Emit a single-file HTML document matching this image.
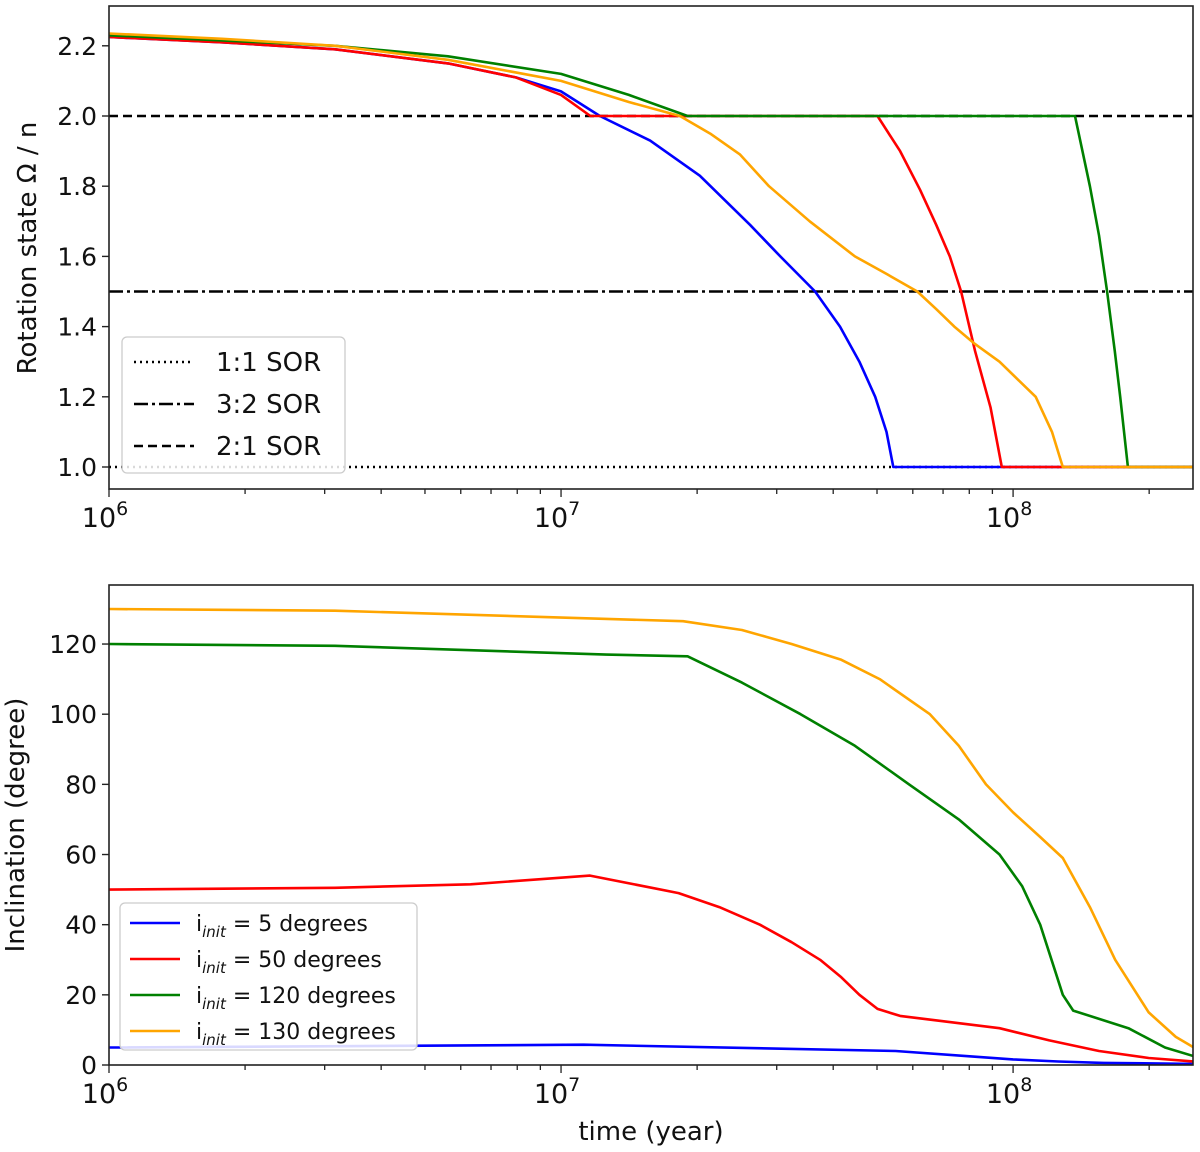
<!DOCTYPE html>
<html><head><meta charset="utf-8"><style>
body{margin:0;background:#fff}
svg text{font-family:"DejaVu Sans","Liberation Sans",sans-serif;fill:#111}
</style></head><body>
<svg id="c" width="1200" height="1147" xmlns="http://www.w3.org/2000/svg"></svg>
<script>
const tBlue=[6,6.25,6.5,6.75,6.9,7.0,7.086,7.197,7.307,7.418,7.485,7.562,7.617,7.66,7.695,7.72,7.735,8.4];
const rBlue=[2.225,2.21,2.19,2.15,2.11,2.07,2.0,1.93,1.83,1.69,1.6,1.5,1.4,1.3,1.2,1.1,1.0,1.0];
const tRed=[6,6.25,6.5,6.75,6.9,7.0,7.065,7.70,7.75,7.794,7.83,7.86,7.885,7.916,7.95,7.975,8.4];
const rRed=[2.225,2.21,2.19,2.15,2.11,2.06,2.0,2.0,1.9,1.79,1.69,1.6,1.5,1.33,1.17,1.0,1.0];
const tGreen=[6,6.25,6.5,6.75,7.0,7.15,7.28,8.137,8.17,8.19,8.208,8.225,8.237,8.254,8.4];
const rGreen=[2.23,2.215,2.2,2.17,2.12,2.06,2.0,2.0,1.8,1.66,1.5,1.33,1.2,1.0,1.0];
const tOrange=[6,6.25,6.5,6.75,7.0,7.15,7.263,7.33,7.396,7.46,7.55,7.65,7.72,7.788,7.83,7.87,7.916,7.97,8.01,8.05,8.086,8.11,8.4];
const rOrange=[2.235,2.22,2.2,2.16,2.1,2.04,2.0,1.95,1.89,1.8,1.7,1.6,1.55,1.5,1.45,1.4,1.35,1.3,1.25,1.2,1.1,1.0,1.0];
const iTBlue=[6,7.05,7.74,7.9,8.0,8.1,8.2,8.4];
const iBlue=[5,5.8,4,2.5,1.6,1.0,0.6,0.3];
const iTRed=[6,6.5,6.8,7.064,7.26,7.35,7.44,7.51,7.573,7.62,7.66,7.70,7.75,7.97,8.08,8.19,8.30,8.4];
const iRed=[50,50.5,51.5,54,49,45,40,35,30,25,20,16,14,10.5,7,4,2,1];
const iTGreen=[6,6.5,7.1,7.28,7.4,7.53,7.65,7.77,7.88,7.97,8.02,8.06,8.09,8.11,8.133,8.255,8.336,8.4];
const iGreen=[120,119.5,117,116.5,109,100,91,80,70,60,51,40,28,20,15.5,10.5,5,2.5];
const iTOrange=[6,6.5,7.27,7.4,7.51,7.62,7.705,7.816,7.88,7.94,8.0,8.06,8.11,8.17,8.226,8.30,8.36,8.4];
const iOrange=[130,129.5,126.5,124,120,115.5,110,100,91,80,72,65,59,45,30,15,8,5];
const yTicksTop=[1.0,1.2,1.4,1.6,1.8,2.0,2.2];
const yTicksBot=[0,20,40,60,80,100,120];
const decades=[6,7,8];

const NS="http://www.w3.org/2000/svg";
const svg=document.getElementById('c');
function el(t,a,p){const e=document.createElementNS(NS,t);for(const k in a)e.setAttribute(k,a[k]);(p||svg).appendChild(e);return e;}
const X0=109,X1=1193,L0=6,L1=8.398;
const sx=v=>X0+(v-L0)/(L1-L0)*(X1-X0);
const syT=v=>467-(v-1)*351;
const syB=v=>1065-v*3.508;
const clip=el('clipPath',{id:'cpT'});el('rect',{x:X0,y:6,width:X1-X0,height:483},clip);
const clip2=el('clipPath',{id:'cpB'});el('rect',{x:X0,y:585,width:X1-X0,height:480},clip2);
function line(ts,vs,sy,col,name,dash,cp){
  const d=ts.map((t,i)=>(i?'L':'M')+sx(t).toFixed(1)+','+sy(vs[i]).toFixed(1)).join('');
  const p=el('path',{d:d,fill:'none',stroke:col,'stroke-width':2.6,'stroke-linejoin':'round','clip-path':'url(#'+cp+')'});
  if(dash)p.setAttribute('stroke-dasharray',dash);
  
  
}
function axes(top,bot,yt,sy,fmt,prefix){
  el('rect',{x:X0,y:top,width:X1-X0,height:bot-top,fill:'none',stroke:'#222','stroke-width':1.6});
  yt.forEach(v=>{const y=sy(v);el('line',{x1:X0-7,x2:X0,y1:y,y2:y,stroke:'#222','stroke-width':1.4});
    const t=el('text',{x:X0-12,y:y+9,'text-anchor':'end','font-size':25});t.textContent=fmt(v);
    });
  for(let d=6;d<=8;d++)for(let m=1;m<10;m++){const l=d+Math.log10(m);if(l>L1)break;const x=sx(l);
    el('line',{x1:x,x2:x,y1:bot,y2:bot+(m==1?8:5),stroke:'#222','stroke-width':1.3});}
  decades.forEach(d=>{const t=el('text',{x:sx(d)-4,y:bot+38,'text-anchor':'middle','font-size':27});
    t.innerHTML='10<tspan dy="-12" font-size="19">'+d+'</tspan>';
    });
}
line([6,8.4],[1,1],syT,'#000','ref-1-1','2,4','cpT');
line([6,8.4],[1.5,1.5],syT,'#000','ref-3-2','14,4,3,4','cpT');
line([6,8.4],[2,2],syT,'#000','ref-2-1','9,5','cpT');
line(tBlue,rBlue,syT,'#0000ff','rot-blue',null,'cpT');
line(tRed,rRed,syT,'#ff0000','rot-red',null,'cpT');
line(tGreen,rGreen,syT,'#008000','rot-green',null,'cpT');
line(tOrange,rOrange,syT,'#ffa500','rot-orange',null,'cpT');
axes(6,489,yTicksTop,syT,v=>v.toFixed(1),'top');
let yl=el('text',{transform:'translate(36,248) rotate(-90)','text-anchor':'middle','font-size':26});yl.textContent='Rotation state  Ω / n';

const lg=el('g',{});
el('rect',{x:122,y:337,width:223,height:136,rx:5,fill:'#fff','fill-opacity':0.85,stroke:'#ccc','stroke-width':1.3},lg);
[['1:1 SOR','2,4'],['3:2 SOR','14,4,3,4'],['2:1 SOR','9,5']].forEach((e,i)=>{const y=362+i*42;
  el('line',{x1:134,x2:194,y1:y,y2:y,stroke:'#000','stroke-width':2.4,'stroke-dasharray':e[1]},lg);
  const t=el('text',{x:216,y:y+9,'font-size':26},lg);t.textContent=e[0];
  });
line(iTBlue,iBlue,syB,'#0000ff','inc-blue',null,'cpB');
line(iTRed,iRed,syB,'#ff0000','inc-red',null,'cpB');
line(iTGreen,iGreen,syB,'#008000','inc-green',null,'cpB');
line(iTOrange,iOrange,syB,'#ffa500','inc-orange',null,'cpB');
axes(585,1065,yTicksBot,syB,v=>String(v),'bot');
yl=el('text',{transform:'translate(24,825) rotate(-90)','text-anchor':'middle','font-size':26});yl.textContent='Inclination (degree)';

const xl=el('text',{x:651,y:1140,'text-anchor':'middle','font-size':26});xl.textContent='time (year)';

const lg2=el('g',{});
el('rect',{x:120,y:903,width:297,height:147,rx:5,fill:'#fff','fill-opacity':0.85,stroke:'#ccc','stroke-width':1.3},lg2);
[['#0000ff','5'],['#ff0000','50'],['#008000','120'],['#ffa500','130']].forEach((e,i)=>{const y=923+i*36;
  el('line',{x1:130,x2:180,y1:y,y2:y,stroke:e[0],'stroke-width':2.6},lg2);
  const t=el('text',{x:196,y:y+8,'font-size':22},lg2);
  t.innerHTML='i<tspan dy="6" font-size="15" font-style="italic">init</tspan><tspan dy="-6"> = '+e[1]+' degrees</tspan>';
  });
</script>
</body></html>
